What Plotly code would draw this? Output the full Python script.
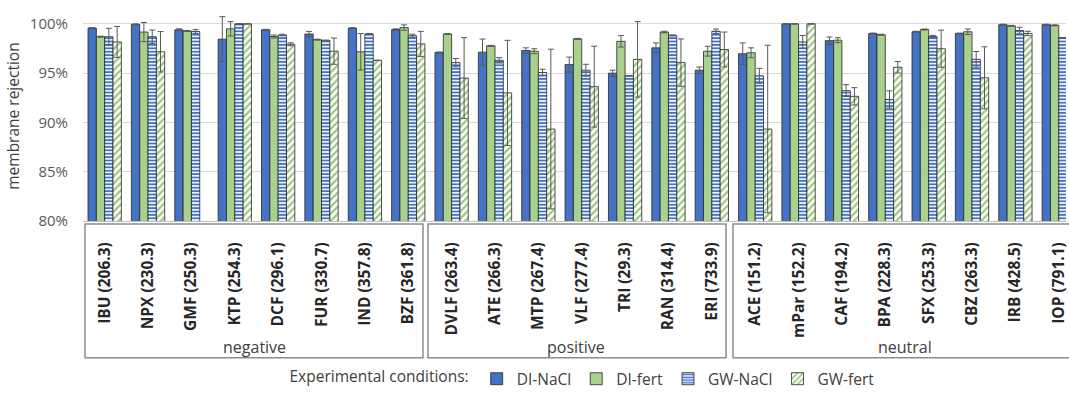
import plotly.graph_objects as go

categories = ["IBU (206.3)", "NPX (230.3)", "GMF (250.3)", "KTP (254.3)", "DCF (296.1)",
              "FUR (330.7)", "IND (357.8)", "BZF (361.8)", "DVLF (263.4)", "ATE (266.3)",
              "MTP (267.4)", "VLF (277.4)", "TRI (29.3)", "RAN (314.4)", "ERI (733.9)",
              "ACE (151.2)", "mPar (152.2)", "CAF (194.2)", "BPA (228.3)", "SFX (253.3)",
              "CBZ (263.3)", "IRB (428.5)", "IOP (791.1)"]

groups = ["negative", "positive", "neutral"]

y_tickvals = [80, 85, 90, 95, 100]
y_ticktext = ["80%", "85%", "90%", "95%", "100%"]

DI_NaCl = [99.57, 99.95, 99.40, 98.45, 99.40, 98.97, 99.57, 99.42, 97.10, 97.13, 97.30, 95.87,
           95.00, 97.57, 95.30, 96.97, 100.0, 98.30, 99.02, 99.20, 99.02, 99.92, 99.92]
DI_NaCl_err = [0.05, 0.05, 0.10, 2.28, 0.05, 0.27, 0.05, 0.08, 0.05, 1.33, 0.27, 0.76,
               0.30, 0.50, 0.33, 1.10, 0.0, 0.37, 0.05, 0.05, 0.05, 0.05, 0.05]

DI_fert = [98.70, 99.17, 99.28, 99.50, 98.72, 98.40, 97.17, 99.63, 98.97, 97.77, 97.23, 98.48,
           98.23, 99.17, 97.23, 97.07, 100.0, 98.35, 98.90, 99.43, 99.20, 99.80, 99.85]
DI_fert_err = [0.05, 0.97, 0.05, 0.73, 0.15, 0.05, 1.85, 0.27, 0.05, 0.05, 0.25, 0.05,
               0.58, 0.08, 0.50, 0.50, 0.0, 0.25, 0.05, 0.05, 0.28, 0.05, 0.05]

GW_NaCl = [98.70, 98.70, 99.22, 100.0, 98.87, 98.33, 98.98, 98.80, 96.07, 96.30, 95.07, 95.30,
           94.73, 98.83, 99.25, 94.73, 98.17, 93.23, 92.33, 98.73, 96.40, 99.33, 98.60]
GW_NaCl_err = [0.85, 0.68, 0.20, 0.0, 0.08, 0.0, 0.05, 0.15, 0.42, 0.27, 0.33, 0.60,
               0.0, 0.05, 0.23, 0.76, 0.65, 0.60, 0.88, 0.10, 0.80, 0.33, 0.0]

GW_fert = [98.17, 97.17, None, 100.0, 97.93, 97.23, 96.30, 97.97, 94.50, 93.00, 89.33, 93.63,
           96.40, 96.07, 97.40, 89.33, 100.0, 92.65, 95.60, 97.48, 94.53, 99.03, None]
GW_fert_err = [1.57, 2.05, None, 0.0, 0.15, 1.33, 0.0, 1.27, 4.10, 5.33, 8.10, 4.10,
               3.83, 2.40, 1.77, 8.50, 0.0, 0.88, 0.58, 1.88, 3.15, 0.22, None]

# ---- layout geometry (pixels) ----
W, H = 1069, 397
ML, MR, MT, MB = 83, 0, 16, 171
PW = W - ML - MR
PH = H - MT - MB
Y_BOTTOM = H - MB


def px_x(x):
    return (x - ML) / PW


def px_y(y):
    return (Y_BOTTOM - y) / PH


FONT = "Open Sans"
line_col = "#262626"
err_style = dict(type="data", thickness=1, width=3, color="#595959", visible=True)

fig = go.Figure()
fig.add_trace(go.Bar(
    name="DI-NaCl", x=categories, y=DI_NaCl,
    marker=dict(color="#4472C4", line=dict(color=line_col, width=0.8)),
    error_y=dict(array=DI_NaCl_err, **err_style)))
fig.add_trace(go.Bar(
    name="DI-fert", x=categories, y=DI_fert,
    marker=dict(color="#A9D18E", line=dict(color=line_col, width=0.8)),
    error_y=dict(array=DI_fert_err, **err_style)))
fig.add_trace(go.Bar(
    name="GW-NaCl", x=categories, y=GW_NaCl,
    marker=dict(color="#EEF3FB", line=dict(color=line_col, width=0.8),
                pattern=dict(shape="-", fgcolor="#4472C4", bgcolor="#EEF3FB",
                             size=3.4, solidity=0.5, fillmode="replace")),
    error_y=dict(array=GW_NaCl_err, **err_style)))
fig.add_trace(go.Bar(
    name="GW-fert", x=categories, y=GW_fert,
    marker=dict(color="white", line=dict(color=line_col, width=0.8),
                pattern=dict(shape="/", fgcolor="#9CC77E", bgcolor="white",
                             size=5, solidity=0.45, fillmode="replace")),
    error_y=dict(array=GW_fert_err, **err_style)))

fig.update_layout(
    width=W, height=H,
    margin=dict(l=ML, r=MR, t=MT, b=MB, pad=0),
    paper_bgcolor="white", plot_bgcolor="white",
    barmode="group", bargap=0.232, bargroupgap=0,
    font=dict(family=FONT, size=15, color="#404040"),
    showlegend=True,
    legend=dict(orientation="h", x=px_x(585), xanchor="center", y=px_y(388), yanchor="middle",
                title=dict(text="Experimental conditions:", side="left",
                           font=dict(family=FONT, size=15.5, color="#404040")),
                font=dict(family=FONT, size=15.5, color="#404040"),
                itemwidth=30, tracegroupgap=0, bgcolor="rgba(0,0,0,0)"),
)

fig.update_yaxes(
    range=[80, 100.8], tickmode="array", tickvals=y_tickvals, ticktext=y_ticktext,
    showgrid=True, gridcolor="#D9D9D9", gridwidth=1, zeroline=False,
    showline=False, ticks="", ticklabelstandoff=14,
    tickfont=dict(family=FONT, size=15, color="#595959"),
)
fig.update_xaxes(
    type="category", range=[-0.5, PW / 43.5 - 0.5],
    tickangle=-90, ticks="", ticklabelstandoff=14,
    tickfont=dict(family=FONT, size=15.5, color="#262626", weight="bold"),
    showline=True, linecolor="#BFBFBF", linewidth=1, showgrid=False,
)

fig.add_annotation(text="membrane rejection", xref="paper", yref="paper",
                   x=px_x(12), y=px_y(119), textangle=-90, showarrow=False,
                   xanchor="center", yanchor="middle",
                   font=dict(family=FONT, size=15.5, color="#404040"))

# group boxes
box_x = [(85, 424), (429, 728), (735, 1090)]
label_x = [255, 578, 908]
for (x0, x1), gname, lx in zip(box_x, groups, label_x):
    fig.add_shape(type="rect", xref="paper", yref="paper",
                  x0=px_x(x0), x1=px_x(x1), y0=px_y(366), y1=px_y(229),
                  line=dict(color="#8C8C8C", width=1.5), fillcolor="rgba(0,0,0,0)")
    fig.add_annotation(text=gname, xref="paper", yref="paper", x=px_x(lx), y=px_y(355),
                       showarrow=False, xanchor="center", yanchor="middle",
                       font=dict(family=FONT, size=16, color="#404040"))

fig.write_html("out.html")
